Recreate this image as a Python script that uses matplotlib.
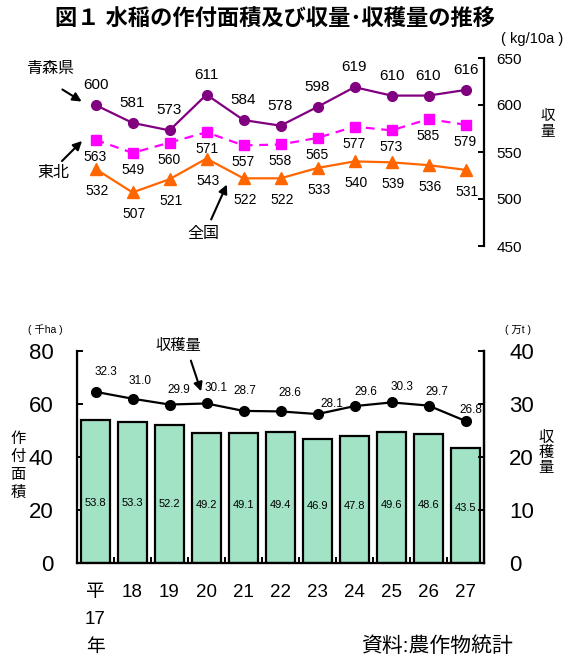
import matplotlib
matplotlib.use("Agg")
import matplotlib.pyplot as plt
from matplotlib.patches import FancyArrowPatch

plt.rcParams['font.family'] = ['Liberation Sans', 'Noto Sans CJK JP', 'DejaVu Sans']

# data
years = ['平\n17\n年', '18', '19', '20', '21', '22', '23', '24', '25', '26', '27']
aomori = [600, 581, 573, 611, 584, 578, 598, 619, 610, 610, 616]
tohoku = [563, 549, 560, 571, 557, 558, 565, 577, 573, 585, 579]
zenkoku = [532, 507, 521, 543, 522, 522, 533, 540, 539, 536, 531]
area = [53.8, 53.3, 52.2, 49.2, 49.1, 49.4, 46.9, 47.8, 49.6, 48.6, 43.5]
harvest = [32.3, 31.0, 29.9, 30.1, 28.7, 28.6, 28.1, 29.6, 30.3, 29.7, 26.8]

# label offsets for harvest line (pixels)
harvest_off = [(10, 20), (8, 18), (9, 15), (10, 15), (1, 20), (9, 18),
               (14, 10), (11, 14), (10, 15), (8, 14), (5, 11)]

W, H = 567, 659
fig = plt.figure(figsize=(W / 100, H / 100), dpi=100)


def fp(x, y):
    return (x / W, 1 - y / H)


def arrow(start, tip):
    fig.add_artist(FancyArrowPatch(fp(*start), fp(*tip), transform=fig.transFigure,
                                   arrowstyle='-|>', color='black', lw=1.5,
                                   mutation_scale=13))


x = list(range(len(years)))
PX = 0.72  # points per pixel

# ---- top chart: yield ----
ax1 = fig.add_axes([77 / W, 1 - 246 / H, 407 / W, 188 / H])
ax1.set_xlim(-0.5, 10.5)
ax1.set_ylim(450, 650)
for s in ['left', 'top', 'bottom']:
    ax1.spines[s].set_visible(False)
ax1.spines['right'].set_linewidth(1.6)
ax1.set_xticks([])
ax1.yaxis.tick_right()
ax1.set_yticks([450, 500, 550, 600, 650])
ax1.tick_params(axis='y', direction='in', length=4, width=1.4, pad=9, labelsize=11)
ax1.patch.set_alpha(0)

ax1.plot(x, aomori, color='#800080', lw=1.6, marker='o', ms=7)
ax1.plot(x, tohoku, color='#ff00ff', lw=1.6, ls=(0, (4, 3)), marker='s', ms=7)
ax1.plot(x, zenkoku, color='#ff6600', lw=1.6, marker='^', ms=9)

for i in x:
    ax1.annotate(str(aomori[i]), (i, aomori[i]), xytext=(0, 20 * PX),
                 textcoords='offset points', ha='center', va='center', fontsize=11)
    ax1.annotate(str(tohoku[i]), (i, tohoku[i]), xytext=(0, -17 * PX),
                 textcoords='offset points', ha='center', va='center', fontsize=10)
    ax1.annotate(str(zenkoku[i]), (i, zenkoku[i]), xytext=(1, -22 * PX),
                 textcoords='offset points', ha='center', va='center', fontsize=10)

fig.text(*fp(532, 39), '( kg/10a )', ha='center', va='center', fontsize=10.5)
fig.text(*fp(548, 124), '収\n量', ha='center', va='center', fontsize=10.5, linespacing=1.1)

fig.text(*fp(50, 68), '青森県', ha='center', va='center', fontsize=11.5)
arrow((60, 88), (84, 103))
fig.text(*fp(53, 173), '東北', ha='center', va='center', fontsize=11.5)
arrow((60, 163), (84, 139))
fig.text(*fp(203, 233), '全国', ha='center', va='center', fontsize=11.5)
arrow((210, 222), (228, 182))

# ---- bottom chart: area + harvest ----
ax2 = fig.add_axes([77 / W, 1 - 563 / H, 407 / W, 212 / H])
ax2.set_xlim(-0.5, 10.5)
ax2.set_ylim(0, 80)
ax2.bar(x, area, width=0.8, color='#a2e3c6', edgecolor='black', linewidth=1.6, zorder=2)
for i in x:
    ax2.text(i, 13.7 + 0.165 * area[i], f'{area[i]:.1f}', ha='center', va='center',
             fontsize=8, zorder=3)
ax2.spines['top'].set_visible(False)
for s in ['left', 'right', 'bottom']:
    ax2.spines[s].set_linewidth(1.6)
ax2.set_yticks([0, 20, 40, 60, 80])
ax2.tick_params(axis='y', direction='in', length=4, width=1.4, pad=17, labelsize=16)
ax2.set_xticks(x)
ax2.set_xticklabels(years, linespacing=1.8)
ax2.tick_params(axis='x', length=0, pad=15, labelsize=13.5)
ax2.set_xticks([i + 0.5 for i in range(-1, 11)], minor=True)
ax2.tick_params(axis='x', which='minor', direction='in', length=4, width=1.4)

ax3 = ax2.twinx()
ax3.set_ylim(0, 40)
ax3.set_yticks([0, 10, 20, 30, 40])
ax3.spines['top'].set_visible(False)
ax3.spines['right'].set_linewidth(1.6)
ax3.tick_params(axis='y', direction='in', length=4, width=1.4, pad=18, labelsize=16)
ax3.plot(x, harvest, color='black', lw=1.6, marker='o', ms=7)
for i in x:
    dx, dy = harvest_off[i]
    ax3.annotate(f'{harvest[i]:.1f}', (i, harvest[i]), xytext=(dx * PX, dy * PX),
                 textcoords='offset points', ha='center', va='center', fontsize=8.5)

fig.text(*fp(178, 346), '収穫量', ha='center', va='center', fontsize=11)
arrow((190, 358), (202, 394))

fig.text(*fp(45, 330), '( 千ha )', ha='center', va='center', fontsize=7.5)
fig.text(*fp(518, 330), '( 万t )', ha='center', va='center', fontsize=7.5)
fig.text(*fp(18, 466), '作\n付\n面\n積', ha='center', va='center', fontsize=11, linespacing=1.35)
fig.text(*fp(546, 453), '収\n穫\n量', ha='center', va='center', fontsize=11, linespacing=1.1)

fig.text(*fp(437, 646), '資料:農作物統計', ha='center', va='center', fontsize=15)
fig.text(*fp(275, 20), '図１ 水稲の作付面積及び収量･収穫量の推移', ha='center', va='center',
         fontsize=16, fontweight='bold')

fig.savefig('out.png', dpi=100)
